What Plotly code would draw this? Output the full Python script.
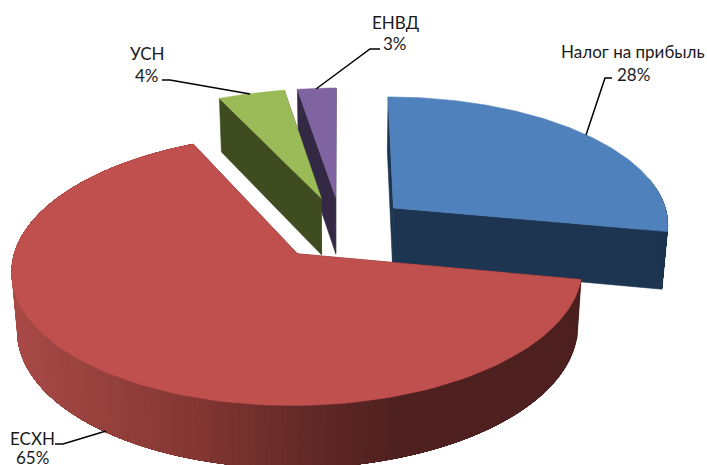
import math
import plotly.graph_objects as go

# --- data ---
categories = ["Налог на прибыль", "ЕСХН", "УСН", "ЕНВД"]
shares = [28.0, 65.05, 4.4, 2.55]

# --- styles ---
top_colors = ["#4f81bd", "#c0504d", "#9bbb59", "#8064a2"]
wall_colors = ["#1d3550", "#4d201f", "#3f4c20", "#342945"]
red_wall_x = [15, 100, 200, 300, 400, 600]
red_wall_rgb = [(168, 74, 71), (150, 65, 61), (130, 54, 50), (100, 42, 40), (78, 32, 31), (77, 32, 31)]
draw_order = [3, 2, 0, 1]
label_pos = [(633, 51, 74), (32, 438, 457), (147, 53, 75), (395, 22, 43)]
leaders = [
    ([612, 605, 586], [78, 78, 135]),
    ([55, 63, 106], [444, 444, 431]),
    ([162, 170, 250], [80, 80, 94]),
    ([380, 370, 316], [49, 49, 89]),
]

# projection of the tilted pie
CX, CY, A, B, K = 341.0, 228.0, 277.0, 128.0, 0.114
EXPLODE = 0.25
DEPTH = 57.5


def proj(u, v, low=False):
    d = 1 - K * v
    x = CX + A * u / d
    y = CY + B * v / d
    if low:
        y = y + DEPTH + 0.03 * (y - CY)
        x = CX + (x - CX) * 0.983
    return x, y


def wedge_angles(vals):
    tot = sum(vals)
    out, acc = [], 0.0
    for v in vals:
        a0 = acc / tot * 360
        acc += v
        out.append((a0, acc / tot * 360))
    return out


def lerp_color(x):
    xs, cs = red_wall_x, red_wall_rgb
    if x <= xs[0]:
        c = cs[0]
    elif x >= xs[-1]:
        c = cs[-1]
    else:
        for i in range(len(xs) - 1):
            if xs[i] <= x <= xs[i + 1]:
                f = (x - xs[i]) / (xs[i + 1] - xs[i])
                c = tuple(cs[i][j] + f * (cs[i + 1][j] - cs[i][j]) for j in range(3))
                break
    return "rgb(%d,%d,%d)" % tuple(int(round(q)) for q in c)


fig = go.Figure()


def poly(pts, color, lw=0.6):
    fig.add_trace(go.Scatter(
        x=[p[0] for p in pts] + [pts[0][0]],
        y=[p[1] for p in pts] + [pts[0][1]],
        mode="lines", fill="toself", fillcolor=color,
        line=dict(color=color, width=lw),
        hoverinfo="skip", showlegend=False,
    ))


angles = wedge_angles(shares)
for i in draw_order:
    a0, a1 = angles[i]
    m = math.radians((a0 + a1) / 2)
    ou, ov = EXPLODE * math.sin(m), -EXPLODE * math.cos(m)

    def pt(theta, low=False, r=1.0):
        t = math.radians(theta)
        return proj(ou + r * math.sin(t), ov - r * math.cos(t), low)

    apex_t, apex_b = proj(ou, ov), proj(ou, ov, True)
    wall = wall_colors[i]
    # radial walls
    poly([apex_t, pt(a0), pt(a0, True), apex_b], wall)
    poly([apex_t, pt(a1), pt(a1, True), apex_b], wall)
    # outer wall: each band runs on to the wedge's end, later bands overpaint
    n = max(4, int((a1 - a0) / 1.0))
    for k in range(n):
        t0 = a0 + (a1 - a0) * k / n
        t1 = a0 + (a1 - a0) * (k + 1) / n
        if -math.cos(math.radians((t0 + t1) / 2)) < -0.25:
            continue
        rest = [t0 + (a1 - t0) * s / 30 for s in range(31)]
        p = [pt(t) for t in rest] + [pt(t, True) for t in reversed(rest)]
        x_mid = (pt(t0)[0] + pt(t1)[0]) / 2
        col = lerp_color(x_mid) if i == 1 else wall
        poly(p, col, lw=0)
    # top face
    steps = 120
    poly([apex_t] + [pt(a0 + (a1 - a0) * k / steps) for k in range(steps + 1)], top_colors[i])

# leader lines
for lx, ly in leaders:
    fig.add_trace(go.Scatter(x=lx, y=ly, mode="lines", line=dict(color="#000000", width=1.5),
                             hoverinfo="skip", showlegend=False))

font = dict(family="Lato, 'Noto Sans', sans-serif", size=17, color="#1a1a1a")
annotations = []
for name, share, (x, y1, y2) in zip(categories, shares, label_pos):
    annotations.append(dict(x=x, y=y1, text=name, showarrow=False, xref="x", yref="y", font=font))
    annotations.append(dict(x=x, y=y2, text=f"{round(share)}%", showarrow=False, xref="x", yref="y", font=font))

fig.update_layout(
    width=707, height=465, margin=dict(l=0, r=0, t=0, b=0),
    paper_bgcolor="white", plot_bgcolor="white",
    xaxis=dict(range=[0, 707], visible=False, fixedrange=True),
    yaxis=dict(range=[465, 0], visible=False, fixedrange=True),
    annotations=annotations, showlegend=False,
)

fig.write_html("out.html", post_script="document.body.style.margin='0';document.body.style.overflow='hidden';",
               config={"displayModeBar": False})
